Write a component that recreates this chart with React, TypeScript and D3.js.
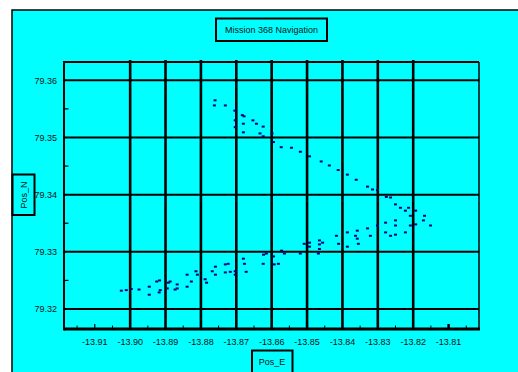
import React from "react";
import * as d3 from "d3";

// Navigation fixes: easting (Pos_E) and northing (Pos_N)
const posE: number[] = [
  // outbound leg (north-west to south-east)
  -13.8760, -13.8762, -13.8731, -13.8704, -13.8683, -13.8678, -13.8703, -13.8680,
  -13.8653, -13.8643, -13.8703, -13.8624, -13.8680, -13.8633, -13.8624, -13.8599,
  -13.8595, -13.8573, -13.8544, -13.8519, -13.8493, -13.8460, -13.8437, -13.8412,
  -13.8386, -13.8361, -13.8329, -13.8315, -13.8301, -13.8276, -13.8264, -13.8250,
  -13.8236, -13.8222, -13.8213, -13.8193, -13.8208, -13.8168, -13.8171, -13.8151,
  // return leg (south-west to north-east)
  -13.9025, -13.9011, -13.8997, -13.8975, -13.8946, -13.8946, -13.8925, -13.8917,
  -13.8915, -13.8918, -13.8892, -13.8887, -13.8895, -13.8873, -13.8867, -13.8867,
  -13.8839, -13.8839, -13.8827, -13.8814, -13.8810, -13.8788, -13.8784, -13.8768,
  -13.8759, -13.8759, -13.8731, -13.8723, -13.8731, -13.8717, -13.8703, -13.8703,
  -13.8680, -13.8677, -13.8672, -13.8623, -13.8615, -13.8624, -13.8595, -13.8593,
  -13.8581, -13.8572, -13.8564, -13.8519, -13.8508, -13.8493, -13.8493, -13.8468,
  -13.8465, -13.8465, -13.8465, -13.8456, -13.8417, -13.8411, -13.8386, -13.8386,
  -13.8363, -13.8358, -13.8358, -13.8355, -13.8329, -13.8321, -13.8301, -13.8278,
  -13.8278, -13.8264, -13.8250, -13.8250, -13.8250, -13.8222, -13.8208, -13.8193,
];

const posN: number[] = [
  79.3565, 79.3556, 79.3556, 79.3547, 79.3539, 79.3537, 79.3530, 79.3524,
  79.3530, 79.3524, 79.3518, 79.3519, 79.3509, 79.3507, 79.3502, 79.3507,
  79.3492, 79.3483, 79.3482, 79.3475, 79.3467, 79.3458, 79.3451, 79.3443,
  79.3435, 79.3426, 79.3414, 79.3409, 79.3408, 79.3396, 79.3395, 79.3383,
  79.3377, 79.3372, 79.3377, 79.3372, 79.3363, 79.3363, 79.3355, 79.3346,
  79.3232, 79.3233, 79.3235, 79.3234, 79.3239, 79.3225, 79.3248, 79.3250,
  79.3233, 79.3229, 79.3246, 79.3248, 79.3236, 79.3234, 79.3243, 79.3236,
  79.3239, 79.3260, 79.3248, 79.3266, 79.3260, 79.3252, 79.3246, 79.3266,
  79.3274, 79.3260, 79.3278, 79.3279, 79.3264, 79.3265, 79.3266, 79.3260,
  79.3288, 79.3279, 79.3265, 79.3295, 79.3297, 79.3279, 79.3292, 79.3278,
  79.3279, 79.3302, 79.3297, 79.3297, 79.3314, 79.3316, 79.3309, 79.3297,
  79.3320, 79.3313, 79.3305, 79.3316, 79.3328, 79.3314, 79.3334, 79.3309,
  79.3328, 79.3337, 79.3323, 79.3314, 79.3341, 79.3328, 79.3346, 79.3351,
  79.3334, 79.3328, 79.3355, 79.3346, 79.3330, 79.3334, 79.3346, 79.3348,
];

const xTicks: number[] = [-13.91, -13.90, -13.89, -13.88, -13.87, -13.86, -13.85, -13.84, -13.83, -13.82, -13.81];
const xGrid: number[] = [-13.90, -13.89, -13.88, -13.87, -13.86, -13.85, -13.84, -13.83, -13.82];
const xMinor: number[] = [-13.915, -13.905, -13.895, -13.885, -13.875, -13.865, -13.855, -13.845, -13.835, -13.825, -13.815, -13.805];
const yTicks: number[] = [79.32, 79.33, 79.34, 79.35, 79.36];
const yMinor: number[] = [79.325, 79.335, 79.345, 79.355];

const W = 518;
const H = 372;
const plot = { left: 64, top: 62, right: 479, bottom: 329 };

// plain ASCII hyphen for negative labels
const fmt = (v: number) => v.toFixed(2);

export default function App() {
  const x = d3.scaleLinear().domain([-13.9187, -13.8014]).range([plot.left, plot.right]);
  const y = d3.scaleLinear().domain([79.3165, 79.3632]).range([plot.bottom, plot.top]);
  const font = "'Liberation Sans', Arial, sans-serif";
  const points = d3.zip(posE, posN);

  return (
    <svg
      width={W}
      height={H}
      style={{ position: "absolute", left: 0, top: 0, background: "#ffffff" }}
      fontFamily={font}
    >
      {/* chart panel */}
      <rect x={12} y={10} width={520} height={370} fill="#00ffff" stroke="#000" strokeWidth={1.5} />

      {/* title */}
      <rect x={216} y={18.5} width={111} height={22.5} fill="#00ffff" stroke="#000" strokeWidth={2} />
      <text x={271.5} y={33} fontSize={9} textAnchor="middle" fill="#111">Mission 368 Navigation</text>

      {/* horizontal grid */}
      {yTicks.map((t) => (
        <line key={"hg" + t} x1={plot.left} x2={plot.right} y1={y(t)} y2={y(t)} stroke="#000" strokeWidth={2} />
      ))}
      {/* vertical grid */}
      {xGrid.map((t) => (
        <line key={"vg" + t} x1={x(t)} x2={x(t)} y1={plot.top - 2} y2={plot.bottom} stroke="#000" strokeWidth={2.6} />
      ))}

      {/* plot frame */}
      <line x1={plot.left} x2={plot.right} y1={plot.top} y2={plot.top} stroke="#000" strokeWidth={2} />
      <line x1={plot.right} x2={plot.right} y1={plot.top} y2={plot.bottom} stroke="#000" strokeWidth={1.5} />
      <line x1={plot.left} x2={plot.left} y1={plot.top - 1} y2={plot.bottom + 1.5} stroke="#000" strokeWidth={2} />
      <line x1={plot.left} x2={plot.right + 1} y1={plot.bottom} y2={plot.bottom} stroke="#000" strokeWidth={3} />

      {/* minor ticks */}
      {xMinor.map((t) => (
        <line key={"xm" + t} x1={x(t)} x2={x(t)} y1={plot.bottom} y2={plot.bottom - 3.5} stroke="#000" strokeWidth={1} />
      ))}
      {[-13.91, -13.81].map((t) => (
        <line key={"xt" + t} x1={x(t)} x2={x(t)} y1={plot.bottom} y2={plot.bottom - 5} stroke="#000" strokeWidth={t === -13.81 ? 2.5 : 1.2} />
      ))}
      {yMinor.map((t) => (
        <line key={"ym" + t} x1={plot.left} x2={plot.left + 4.5} y1={y(t)} y2={y(t)} stroke="#000" strokeWidth={1.2} />
      ))}

      {/* tick labels */}
      {xTicks.map((t) => (
        <text key={"xl" + t} x={x(t)} y={345} fontSize={9} textAnchor="middle" fill="#111">
          {fmt(t)}
        </text>
      ))}
      {yTicks.map((t) => (
        <text key={"yl" + t} x={57} y={y(t) + 3.5} fontSize={9} textAnchor="end" fill="#111">
          {fmt(t)}
        </text>
      ))}

      {/* navigation fixes */}
      {points.map(([e, n], i) => (
        <rect key={"p" + i} x={x(e) - 1.5} y={y(n) - 1} width={3} height={2} fill="#000080" />
      ))}

      {/* axis titles */}
      <rect x={252} y={350.5} width={40.5} height={24} fill="#00ffff" stroke="#000" strokeWidth={2} />
      <text x={272} y={364.5} fontSize={9} textAnchor="middle" fill="#111">Pos_E</text>

      <rect x={12.5} y={174.5} width={22} height={40.5} fill="#00ffff" stroke="#000" strokeWidth={2} />
      <text x={0} y={0} fontSize={9} textAnchor="middle" fill="#111" transform="translate(26.5,195) rotate(-90)">Pos_N</text>
    </svg>
  );
}
